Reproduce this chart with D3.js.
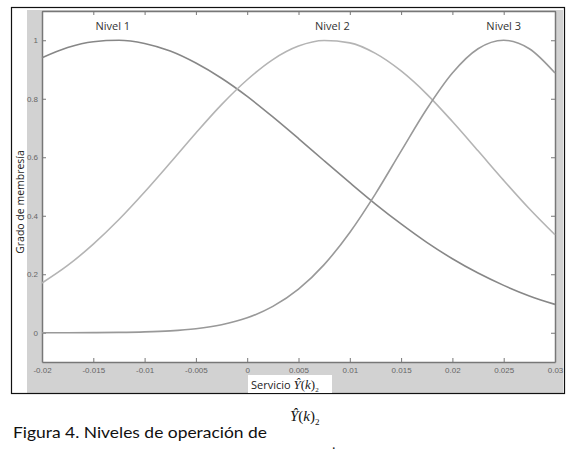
<!DOCTYPE html>
<html><head><meta charset="utf-8">
<script src="https://cdn.jsdelivr.net/npm/d3@7"></script>
<style>body{margin:0;background:#fff}svg{display:block}</style>
</head><body>
<script>
const xValues = [-0.02,-0.0175,-0.015,-0.0125,-0.01,-0.0075,-0.005,-0.0025,0,0.0025,0.005,0.0075,0.01,0.0125,0.015,0.0175,0.02,0.0225,0.025,0.0275,0.03];
const nivel1 = [0.940,0.975,0.995,1.000,0.989,0.963,0.922,0.870,0.808,0.738,0.664,0.588,0.513,0.440,0.372,0.309,0.253,0.204,0.162,0.126,0.097];
const nivel2 = [0.170,0.230,0.303,0.387,0.481,0.581,0.683,0.780,0.865,0.934,0.980,0.999,0.991,0.955,0.895,0.816,0.722,0.622,0.521,0.424,0.335];
const nivel3 = [0.0001,0.0002,0.0005,0.0012,0.0029,0.0065,0.0138,0.0273,0.051,0.090,0.149,0.233,0.343,0.475,0.621,0.765,0.888,0.971,1.000,0.971,0.888];
const seriesNames = ["Nivel 1","Nivel 2","Nivel 3"];
const labelX = [-0.0131,0.0083,0.025];
const xTicks = [-0.02,-0.015,-0.01,-0.005,0,0.005,0.01,0.015,0.02,0.025,0.03];
const xTickLabels = ["-0.02","-0.015","-0.01","-0.005","0","0.005","0.01","0.015","0.02","0.025","0.03"];
const yTicks = [0,0.2,0.4,0.6,0.8,1];
const yTickLabels = ["0","0.2","0.4","0.6","0.8","1"];

const W=575,H=453;
const svg=d3.select("body").append("svg").attr("width",W).attr("height",H);
svg.append("rect").attr("x",27).attr("y",10).attr("width",536).attr("height",383).attr("fill","#d2d2d2");
svg.append("rect").attr("x",11.5).attr("y",7.5).attr("width",553).attr("height",386).attr("fill","none").attr("stroke","#111").attr("stroke-width",1.2);

const L=42,R=555,T=11,B=362;
const x=d3.scaleLinear().domain([-0.02,0.03]).range([L,R]);
const y=d3.scaleLinear().domain([-0.1,1.1]).range([B,T]);
svg.append("rect").attr("x",L).attr("y",T).attr("width",R-L).attr("height",B-T).attr("fill","#fff");

const tickCol="#777";
const fmtX=d=>xTickLabels[xTicks.indexOf(d)];
const fmtY=d=>yTickLabels[yTicks.indexOf(d)];
const gB=svg.append("g").attr("transform",`translate(0,${B})`).call(d3.axisBottom(x).tickValues(xTicks).tickFormat(fmtX).tickSizeInner(-4).tickSizeOuter(0).tickPadding(5));
const gT=svg.append("g").attr("transform",`translate(0,${T})`).call(d3.axisTop(x).tickValues(xTicks).tickFormat("").tickSizeInner(-4).tickSizeOuter(0));
const gL=svg.append("g").attr("transform",`translate(${L},0)`).call(d3.axisLeft(y).tickValues(yTicks).tickFormat(fmtY).tickSizeInner(-4).tickSizeOuter(0).tickPadding(4));
const gR=svg.append("g").attr("transform",`translate(${R},0)`).call(d3.axisRight(y).tickValues(yTicks).tickFormat("").tickSizeInner(-4).tickSizeOuter(0));
[gB,gT,gL,gR].forEach(g=>{
  g.select(".domain").attr("stroke",tickCol).attr("stroke-width",1.5);
  g.selectAll(".tick line").attr("stroke",tickCol);
  g.selectAll("text").attr("fill","#666").attr("font-family","Liberation Sans, Arial").attr("font-size",8);
});

const colors=["#878787","#b4b4b4","#999999"];
const line=d3.line().x((d,i)=>x(xValues[i])).y(d=>y(d)).curve(d3.curveMonotoneX);
[nivel1,nivel2,nivel3].forEach((s,i)=>{
  svg.append("path").attr("d",line(s)).attr("fill","none").attr("stroke",colors[i]).attr("stroke-width",1.6);
});
seriesNames.forEach((n,i)=>{
  svg.append("text").attr("x",x(labelX[i])).attr("y",30).attr("text-anchor","middle")
    .attr("font-family","Open Sans, DejaVu Sans").attr("font-size",11).attr("fill","#333").text(n);
});

svg.append("text").attr("transform","translate(24,202) rotate(-90)").attr("text-anchor","middle")
  .attr("font-family","Open Sans, DejaVu Sans").attr("font-size",10.5).attr("fill","#222").text("Grado de membresía");

svg.append("rect").attr("x",248).attr("y",375).attr("width",84).attr("height",18).attr("fill","#fff");
const xl=svg.append("text").attr("x",251).attr("y",389).attr("font-size",11).attr("fill","#222");
xl.append("tspan").attr("font-family","Open Sans, DejaVu Sans").text("Servicio ");
xl.append("tspan").attr("font-family","Liberation Serif, Times New Roman").attr("font-style","italic").attr("font-size",13).text("Ŷ");
xl.append("tspan").attr("font-family","Liberation Serif").attr("font-size",13).text("(");
xl.append("tspan").attr("font-family","Liberation Serif").attr("font-style","italic").attr("font-size",13).text("k");
xl.append("tspan").attr("font-family","Liberation Serif").attr("font-size",13).text(")");
xl.append("tspan").attr("font-family","Liberation Serif").attr("font-size",7).attr("dy",3).text("2");

svg.append("text").attr("x",13).attr("y",438).attr("font-family","Lato, Open Sans").attr("font-size",15).attr("font-weight","normal").attr("fill","#111")
  .attr("textLength",254).attr("lengthAdjust","spacingAndGlyphs").text("Figura 4. Niveles de operación de");
const cm=svg.append("text").attr("x",290).attr("y",421).attr("font-family","Liberation Serif").attr("font-size",15).attr("fill","#111");
cm.append("tspan").attr("font-style","italic").text("Ŷ");
cm.append("tspan").text("(");
cm.append("tspan").attr("font-style","italic").text("k");
cm.append("tspan").text(")");
cm.append("tspan").attr("font-size",9).attr("dy",4).text("2");
svg.append("text").attr("x",332).attr("y",449).attr("font-family","Liberation Serif").attr("font-size",14).attr("fill","#111").text(".");
</script>
</body></html>
